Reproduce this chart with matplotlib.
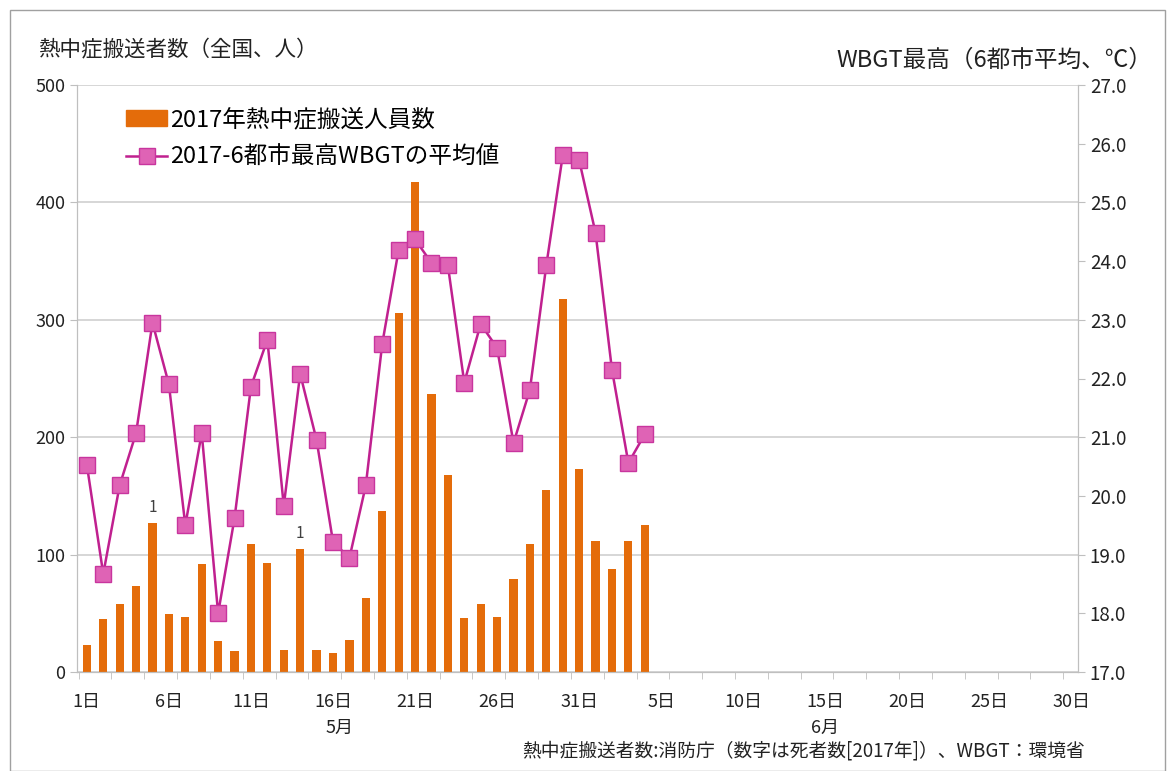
import matplotlib
matplotlib.use("Agg")
import matplotlib.pyplot as plt
from matplotlib.patches import Rectangle
from matplotlib.lines import Line2D
from matplotlib.patches import Patch
import numpy as np

plt.rcParams['font.family'] = ['Noto Sans CJK JP', 'DejaVu Sans']

# --- data ---
days = list(range(1, 36))  # 1..31 = May 1..31, 32..35 = June 1..4
patients = [23, 45, 58, 73, 127, 49, 47, 92, 26, 18,
            109, 93, 19, 105, 19, 16, 27, 63, 137, 306,
            417, 237, 168, 46, 58, 47, 79, 109, 155, 318,
            173, 112, 88, 112, 125]
wbgt = [20.53, 18.67, 20.18, 21.07, 22.95, 21.90, 19.50, 21.07, 18.00, 19.62,
        21.86, 22.66, 19.83, 22.08, 20.95, 19.22, 18.94, 20.18, 22.59, 24.19,
        24.37, 23.97, 23.93, 21.93, 22.93, 22.52, 20.90, 21.81, 23.93, 25.80,
        25.72, 24.48, 22.15, 20.56, 21.05]
deaths_day = [5, 14]
deaths_val = ["1", "1"]
tick_pos = [1, 6, 11, 16, 21, 26, 31, 36, 41, 46, 51, 56, 61]
tick_labels = ["1日", "6日", "11日", "16日", "21日", "26日", "31日",
               "5日", "10日", "15日", "20日", "25日", "30日"]

bar_color = '#E46C0A'
line_color = '#C0208F'
marker_face = '#DF63B5'
txt = '#222222'

fig = plt.figure(figsize=(11.75, 7.71), dpi=100)
W, H = 1175, 771
ax = fig.add_axes([77 / W, 1 - 672 / H, (1078 - 77) / W, (672 - 85) / H])
ax2 = ax.twinx()

ax.bar(days, patients, width=0.5, color=bar_color, zorder=2)
ax.set_ylim(0, 500)
ax.set_yticks(range(0, 501, 100))
ax.set_xlim(0.4, 61.4)
ax.grid(axis='y', color='#D0D0D0', linewidth=1.2, zorder=0)
ax.set_axisbelow(True)

ax2.plot(days, wbgt, color=line_color, linewidth=1.8, marker='s', markersize=11,
         markerfacecolor=marker_face, markeredgecolor='#C8359E', markeredgewidth=1.0, zorder=3)
ax2.set_ylim(17.0, 27.0)
ax2.set_yticks(np.arange(17.0, 27.01, 1.0))
ax2.set_yticklabels([f"{v:.1f}" for v in np.arange(17.0, 27.01, 1.0)])

for d, t in zip(deaths_day, deaths_val):
    ax.text(d, patients[d - 1] + 6, t, ha='center', va='bottom', fontsize=11, color='#404040')

ax.set_xticks(tick_pos)
ax.set_xticklabels(tick_labels)
ax.set_xticks(np.arange(0.5, 61.6, 2), minor=True)
ax.tick_params(axis='x', which='major', length=0, labelsize=13, pad=15, colors=txt)
ax.tick_params(axis='x', which='minor', length=5, color='#BFBFBF')
ax.tick_params(axis='y', length=5, color='#BFBFBF', labelsize=13, labelcolor=txt)
ax2.tick_params(axis='y', length=5, color='#BFBFBF', labelsize=13.5, labelcolor=txt)

for a in (ax, ax2):
    a.spines['top'].set_visible(False)
    a.spines['left'].set_color('#BFBFBF')
    a.spines['right'].set_color('#BFBFBF')
    a.spines['bottom'].set_color('#BFBFBF')

# legend
handles = [Patch(facecolor=bar_color, edgecolor=bar_color),
           Line2D([0], [0], color=line_color, linewidth=1.8, marker='s', markersize=11,
                  markerfacecolor=marker_face, markeredgecolor='#C8359E')]
leg = ax.legend(handles, ["2017年熱中症搬送人員数", "2017-6都市最高WBGTの平均値"],
                loc='upper left', bbox_to_anchor=(40 / 1001, 1 - 14 / 587), frameon=False,
                fontsize=17, handlelength=1.7, handletextpad=0.15, labelspacing=0.62,
                borderaxespad=0)

# titles and notes
fig.text(38 / W, 1 - 50 / H, "熱中症搬送者数（全国、人）", fontsize=15.5, va='center', ha='left', color=txt)
fig.text(1152 / W, 1 - 60 / H, "WBGT最高（6都市平均、℃）", fontsize=17, va='center', ha='right', color=txt)
fig.text(340 / W, 1 - 728 / H, "5月", fontsize=13, ha='center', va='center', color=txt)
fig.text(825 / W, 1 - 728 / H, "6月", fontsize=13, ha='center', va='center', color=txt)
fig.text(1085 / W, 1 - 751 / H, "熱中症搬送者数:消防庁（数字は死者数[2017年]）、WBGT：環境省",
         fontsize=13.5, ha='right', va='center', color=txt)

# outer frame
fig.patches.append(Rectangle((10 / W, 0), (1165 - 10) / W, 1 - 10 / H, transform=fig.transFigure,
                             fill=False, edgecolor='#A0A0A0', linewidth=1.0))

fig.savefig("out.png", dpi=100)
